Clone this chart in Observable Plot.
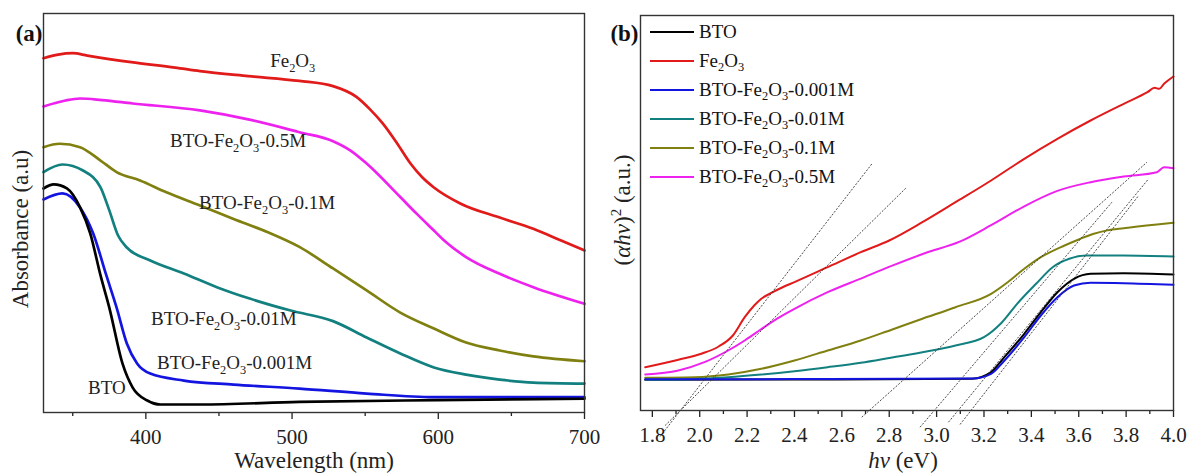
<!DOCTYPE html>
<html><head><meta charset="utf-8">
<script src="https://cdn.jsdelivr.net/npm/d3@7"></script>
<script src="https://cdn.jsdelivr.net/npm/@observablehq/plot@0.6"></script>
<style>
body{margin:0;background:#fff;}
#root{position:relative;width:1190px;height:473px;background:#fff;overflow:hidden;font-family:"Liberation Serif","Times New Roman",serif;}
#root svg text{font-family:"Liberation Serif","Times New Roman",serif !important;}
.panel{position:absolute;top:0;}
#legend{position:absolute;left:650px;top:17px;}
.row{height:29px;display:flex;align-items:center;font-size:19px;color:#111;white-space:nowrap;}
.row .sw{width:44px;height:2px;margin-right:5px;}
.sub{font-size:65%;position:relative;top:0.35em;}
</style></head><body>
<div id="root"><div id="pa" class="panel" style="left:0"></div><div id="pb" class="panel" style="left:595px"></div><div id="legend"></div></div>
<script>
const FONT = '"Liberation Serif","Times New Roman",serif';

// ---------- shared series ----------
const seriesNames = ["BTO", "Fe₂O₃", "BTO-Fe₂O₃-0.001M", "BTO-Fe₂O₃-0.01M", "BTO-Fe₂O₃-0.1M", "BTO-Fe₂O₃-0.5M"];
const seriesColors = ["#000000", "#e11a1a", "#1414e0", "#138080", "#808010", "#ee22ee"];

// ---------- panel (a): absorbance vs wavelength ----------
const wlBTO  = [330,337,346,355,362,369,375,384,391,401,410,437,505,600,700];
const absBTO = [1.123,1.143,1.123,1.028,0.897,0.687,0.526,0.246,0.125,0.060,0.040,0.040,0.053,0.062,0.069];
const wlFe  = [330,340,350,360,390,420,437,470,505,528,544,553,562,572,581,589,597,615,642,665,684,700];
const absFe = [1.776,1.794,1.801,1.789,1.756,1.729,1.711,1.686,1.662,1.636,1.582,1.522,1.449,1.347,1.248,1.179,1.128,1.048,0.977,0.921,0.862,0.812];
const wl001  = [330,343,355,364,373,380,387,394,403,426,460,505,551,597,700];
const abs001 = [1.068,1.098,1.028,0.897,0.687,0.526,0.346,0.246,0.195,0.160,0.140,0.120,0.095,0.077,0.077];
const wl01  = [330,343,357,369,375,381,387,403,426,449,471,499,528,551,574,597,619,642,665,700];
const abs01 = [1.205,1.243,1.213,1.129,1.013,0.887,0.827,0.762,0.697,0.627,0.571,0.511,0.458,0.376,0.296,0.226,0.190,0.165,0.150,0.145];
const wl1  = [330,341,355,369,380,396,414,437,460,483,505,528,551,574,597,619,642,665,700];
const abs1 = [1.330,1.347,1.330,1.263,1.205,1.163,1.104,1.038,0.970,0.905,0.830,0.722,0.612,0.501,0.421,0.351,0.311,0.281,0.257];
const wl5  = [330,345,355,370,391,437,470,505,528,540,551,574,585,597,604,619,642,665,700];
const abs5 = [1.534,1.564,1.574,1.566,1.549,1.514,1.469,1.405,1.360,1.313,1.248,1.080,0.998,0.912,0.862,0.779,0.695,0.628,0.545];

const ticksA = [400, 500, 600, 700];
const minorA = [350, 450, 550, 650];

const labelTexts = ["Fe₂O₃", "BTO-Fe₂O₃-0.5M", "BTO-Fe₂O₃-0.1M", "BTO-Fe₂O₃-0.01M", "BTO-Fe₂O₃-0.001M", "BTO"];
const labelWl  = [485, 416.6, 436.4, 403.6, 407.7, 360.5];
const labelAbs = [1.764, 1.363, 1.053, 0.471, 0.251, 0.125];

// ---------- panel (b): Tauc plot ----------
const evBTO = [1.77,2.40,3.15,3.23,3.28,3.37,3.44,3.51,3.58,3.65,3.79,4.0];
const ahBTO = [0.777,0.785,0.803,0.970,1.309,1.942,2.489,2.995,3.334,3.461,3.476,3.443];
const evFe = [1.77,1.91,2.01,2.08,2.14,2.19,2.23,2.26,2.30,2.35,2.40,2.54,2.68,2.80,2.94,3.08,3.23,3.37,3.51,3.65,3.79,3.89,3.92,3.94,3.96,4.0];
const ahFe = [1.096,1.284,1.443,1.620,1.899,2.362,2.658,2.830,2.970,3.120,3.250,3.628,4.008,4.304,4.767,5.273,5.823,6.372,6.878,7.342,7.765,8.058,8.168,8.144,8.271,8.456];
const ev001 = [1.77,2.40,3.15,3.23,3.28,3.37,3.44,3.51,3.58,3.65,3.79,4.0];
const ah001 = [0.790,0.795,0.810,0.929,1.223,1.856,2.405,2.868,3.165,3.233,3.223,3.182];
const ev01 = [1.77,1.98,2.12,2.26,2.40,2.54,2.68,2.80,2.94,3.08,3.20,3.27,3.34,3.42,3.49,3.56,3.63,3.79,4.0];
const ah01 = [0.777,0.800,0.843,0.911,0.995,1.096,1.208,1.329,1.476,1.646,1.856,2.195,2.701,3.208,3.628,3.841,3.924,3.924,3.899];
const ev1 = [1.77,1.98,2.12,2.26,2.40,2.54,2.68,2.81,2.94,3.08,3.23,3.30,3.37,3.44,3.54,3.60,3.66,3.72,3.79,3.93,4.0];
const ah1 = [0.828,0.843,0.911,1.056,1.266,1.519,1.772,2.046,2.322,2.615,2.954,3.248,3.587,3.881,4.177,4.330,4.470,4.560,4.615,4.709,4.752];
const ev5 = [1.77,1.91,2.02,2.12,2.19,2.26,2.33,2.40,2.54,2.68,2.81,2.95,3.10,3.23,3.37,3.51,3.65,3.79,3.93,3.96,4.0];
const ah5 = [0.911,1.013,1.223,1.519,1.772,2.060,2.340,2.575,2.995,3.340,3.660,3.980,4.280,4.690,5.170,5.560,5.780,5.924,6.033,6.159,6.134];

// tangent (band-gap extrapolation) lines
const tanEv1 = [1.833, 1.854, 2.684, 2.930, 3.050, 3.099];
const tanAh1 = [-0.658, -0.380, -0.170, -0.423, -0.296, -0.354];
const tanEv2 = [2.728, 2.874, 3.888, 3.740, 3.895, 3.853];
const tanAh2 = [6.253, 5.653, 6.286, 5.273, 5.866, 5.443];

const ticksB = [1.8, 2.0, 2.2, 2.4, 2.6, 2.8, 3.0, 3.2, 3.4, 3.6, 3.8, 4.0];
const minorB = [1.9, 2.1, 2.3, 2.5, 2.7, 2.9, 3.1, 3.3, 3.5, 3.7, 3.9];

// ---------- helpers ----------
const tidy = (name, xs, ys) => xs.map((x, i) => ({name, x, y: ys[i]}));
const SUB = {"₂": "2", "₃": "3"};
const RICH = {
  "(αhν)² (a.u.)": [["(", ""], ["αhν", "i"], [")", ""], ["2", "sup"], [" (a.u.)", ""]],
  "hν (eV)": [["hν", "i"], [" (eV)", ""]]
};
function segmentsOf(s) {
  if (RICH[s]) return RICH[s];
  const segs = []; let cur = "";
  for (const ch of s) {
    if (SUB[ch]) { if (cur) segs.push([cur, ""]); cur = ""; segs.push([SUB[ch], "sub"]); }
    else cur += ch;
  }
  if (cur) segs.push([cur, ""]);
  return segs;
}
function richify(svg) {
  svg.querySelectorAll("text").forEach(el => {
    const s = el.textContent;
    if (!RICH[s] && !/[₂₃]/.test(s)) return;
    const segs = segmentsOf(s);
    el.textContent = "";
    let shift = 0;
    for (const [t, kind] of segs) {
      const ts = document.createElementNS("http://www.w3.org/2000/svg", "tspan");
      ts.textContent = t;
      if (kind === "sub") { ts.setAttribute("font-size", "65%"); ts.setAttribute("dy", (0.30 / 0.65 - shift / 0.65).toFixed(3) + "em"); shift = 0.30; }
      else if (kind === "sup") { ts.setAttribute("font-size", "65%"); ts.setAttribute("dy", (-0.40 / 0.65 - shift / 0.65).toFixed(3) + "em"); shift = -0.40; }
      else {
        if (shift !== 0) ts.setAttribute("dy", (-shift).toFixed(3) + "em");
        shift = 0;
        if (kind === "i") ts.setAttribute("font-style", "italic");
      }
      el.appendChild(ts);
    }
  });
}
const baseStyle = {fontFamily: FONT, fontSize: "21px", background: "transparent", overflow: "visible", color: "#222"};

// ---------- plot (a) ----------
const dataA = [
  [wlFe, absFe, 1], [wl5, abs5, 5], [wl1, abs1, 4], [wl01, abs01, 3], [wl001, abs001, 2], [wlBTO, absBTO, 0]
];
const labelsA = labelTexts.map((t, i) => ({t, x: labelWl[i], y: labelAbs[i]}));
const plotA = Plot.plot({
  width: 595, height: 473,
  marginLeft: 43, marginRight: 11, marginTop: 13, marginBottom: 61,
  style: baseStyle,
  x: {domain: [330, 700], axis: null},
  y: {domain: [0, 2], axis: null},
  marks: [
    ...dataA.map(([xs, ys, k]) => Plot.line(tidy(seriesNames[k], xs, ys), {x: "x", y: "y", stroke: seriesColors[k], strokeWidth: 2.7, curve: "monotone-x"})),
    Plot.axisX(ticksA, {tickSize: 7, tickPadding: 10, strokeWidth: 1.3, fontSize: 21, tickFormat: d => String(d), label: null}),
    Plot.axisX(minorA, {tickSize: 4, strokeWidth: 1.3, tickFormat: () => "", label: null}),
    Plot.frame({stroke: "#333", strokeWidth: 1.4}),
    Plot.text(labelsA, {x: "x", y: "y", text: "t", textAnchor: "start", lineAnchor: "middle", fontSize: 19, fill: "#222"}),
    Plot.text(["Wavelength (nm)"], {frameAnchor: "bottom", text: d => d, textAnchor: "middle", dy: 48, fontSize: 23, lineAnchor: "middle", fill: "#222"}),
    Plot.text(["Absorbance (a.u)"], {frameAnchor: "left", text: d => d, textAnchor: "middle", rotate: -90, dx: -23, dy: 16, fontSize: 23, lineAnchor: "middle", fill: "#222"}),
    Plot.text(["(a)"], {frameAnchor: "top-left", text: d => d, textAnchor: "end", dx: -1, dy: 20, fontSize: 23, fontWeight: "bold", lineAnchor: "middle", fill: "#111"})
  ]
});
richify(plotA);
document.getElementById("pa").appendChild(plotA);

// ---------- plot (b) ----------
const dataB = [
  [evBTO, ahBTO, 0], [evFe, ahFe, 1], [ev5, ah5, 5], [ev1, ah1, 4], [ev01, ah01, 3], [ev001, ah001, 2]
];
const tangents = tanEv1.map((x1, i) => ({x1, y1: tanAh1[i], x2: tanEv2[i], y2: tanAh2[i]}));
const plotB = Plot.plot({
  width: 595, height: 473,
  marginLeft: 45, marginRight: 17, marginTop: 15, marginBottom: 63,
  style: baseStyle,
  x: {domain: [1.75, 4.0], axis: null},
  y: {domain: [0, 10], axis: null},
  marks: [
    ...dataB.map(([xs, ys, k]) => Plot.line(tidy(seriesNames[k], xs, ys), {x: "x", y: "y", stroke: seriesColors[k], strokeWidth: 2.0, curve: "monotone-x"})),
    Plot.link(tangents, {x1: "x1", y1: "y1", x2: "x2", y2: "y2", stroke: "#333", strokeWidth: 0.9, strokeDasharray: "2,1.5"}),
    Plot.axisX(ticksB, {tickSize: 7, tickPadding: 10, strokeWidth: 1.3, fontSize: 21, tickFormat: d3.format(".1f"), label: null}),
    Plot.axisX(minorB, {tickSize: 4, strokeWidth: 1.3, tickFormat: () => "", label: null}),
    Plot.frame({stroke: "#333", strokeWidth: 1.4}),
    Plot.text(["hν (eV)"], {frameAnchor: "bottom", text: d => d, textAnchor: "middle", dx: -4, dy: 50, fontSize: 23, lineAnchor: "middle", fill: "#222"}),
    Plot.text(["(αhν)² (a.u.)"], {frameAnchor: "left", text: d => d, textAnchor: "middle", rotate: -90, dx: -18, dy: -3, fontSize: 23, lineAnchor: "middle", fill: "#222"}),
    Plot.text(["(b)"], {frameAnchor: "top-left", text: d => d, textAnchor: "end", dx: -2, dy: 18, fontSize: 23, fontWeight: "bold", lineAnchor: "middle", fill: "#111"})
  ]
});
richify(plotB);
document.getElementById("pb").appendChild(plotB);

// ---------- legend (b) ----------
const legend = document.getElementById("legend");
seriesNames.forEach((name, i) => {
  const row = document.createElement("div");
  row.className = "row";
  const sw = document.createElement("span");
  sw.className = "sw"; sw.style.background = seriesColors[i];
  row.appendChild(sw);
  const lab = document.createElement("span");
  for (const [t, kind] of segmentsOf(name)) {
    const sp = document.createElement("span");
    sp.textContent = t;
    if (kind === "sub") sp.className = "sub";
    lab.appendChild(sp);
  }
  row.appendChild(lab);
  legend.appendChild(row);
});
</script></body></html>
